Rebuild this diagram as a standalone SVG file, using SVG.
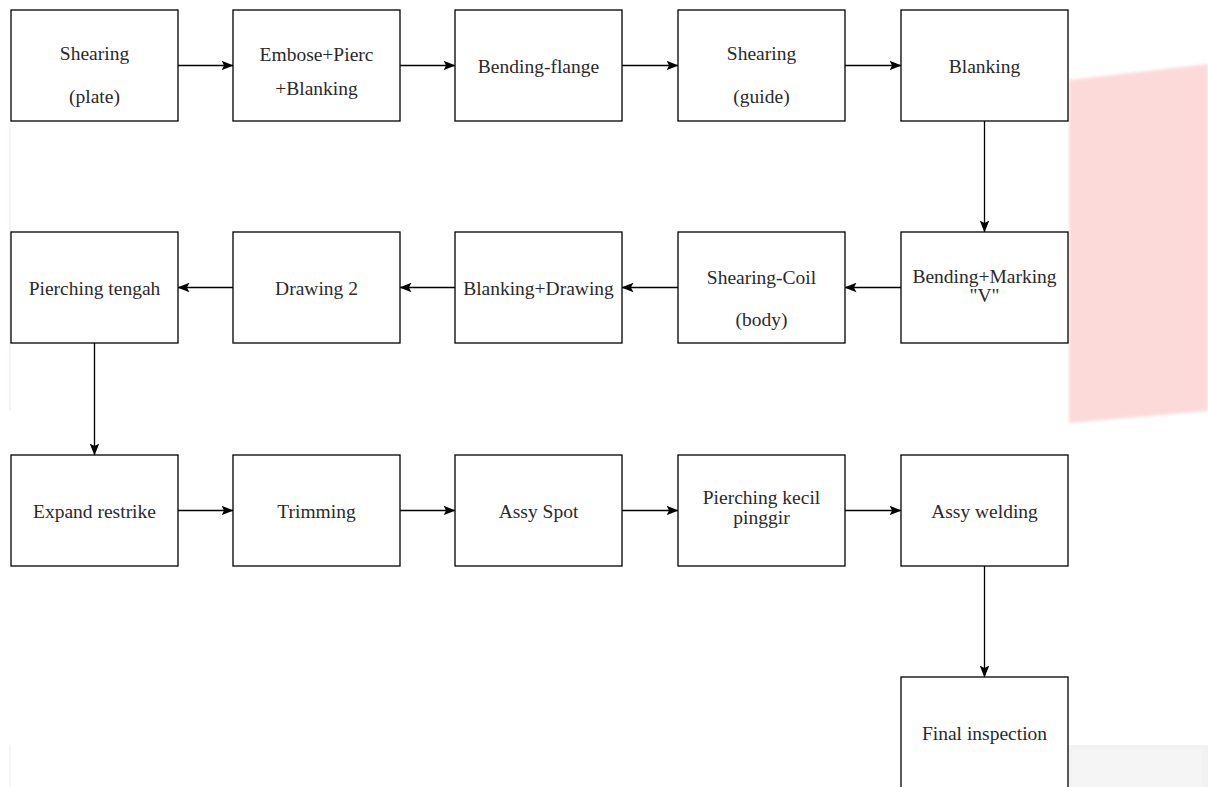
<svg xmlns="http://www.w3.org/2000/svg" width="1208" height="787" viewBox="0 0 1208 787">
  <style>
    .box { fill: #ffffff; stroke: #000000; stroke-width: 1.3; }
    .lbl { font-family: 'Liberation Serif', 'DejaVu Serif', serif; font-size: 19.5px; fill: #2a2a2a; text-anchor: middle; }
    .edge { fill: none; stroke: #000000; stroke-width: 1.3; }
  </style>
  <defs>
    <marker id="arr" viewBox="0 0 12 10" refX="11.5" refY="5" markerWidth="12" markerHeight="10" markerUnits="userSpaceOnUse" orient="auto">
      <path d="M0,0.2 L12,5 L0,9.8 L2.6,5 Z" fill="#000000"/>
    </marker>
    <filter id="soft" x="-10%" y="-10%" width="120%" height="120%">
      <feGaussianBlur stdDeviation="1.5"/>
    </filter>
  </defs>
  <rect x="0" y="0" width="1208" height="787" fill="#ffffff"/>
  <!-- background artifacts -->
  <polygon points="1069,80 1208,64 1208,411 1069,423" fill="#fcdada" filter="url(#soft)"/>
  <rect x="1068" y="745" width="140" height="42" fill="#f2f2f2"/>
  <rect x="1072" y="750" width="130" height="37" fill="#f5f5f5"/>
  <line x1="10" y1="125" x2="10" y2="410" stroke="#f6e4e4" stroke-width="1"/>
  <line x1="10" y1="745" x2="10" y2="787" stroke="#eeeeee" stroke-width="1"/>

  <g id="connectors">
    <line class="edge" x1="178" y1="65.5" x2="233" y2="65.5" marker-end="url(#arr)"/>
    <line class="edge" x1="400" y1="65.5" x2="455" y2="65.5" marker-end="url(#arr)"/>
    <line class="edge" x1="622" y1="65.5" x2="678" y2="65.5" marker-end="url(#arr)"/>
    <line class="edge" x1="845" y1="65.5" x2="901" y2="65.5" marker-end="url(#arr)"/>
    <line class="edge" x1="984.5" y1="121" x2="984.5" y2="232" marker-end="url(#arr)"/>
    <line class="edge" x1="901" y1="287.5" x2="845" y2="287.5" marker-end="url(#arr)"/>
    <line class="edge" x1="678" y1="287.5" x2="622" y2="287.5" marker-end="url(#arr)"/>
    <line class="edge" x1="455" y1="287.5" x2="400" y2="287.5" marker-end="url(#arr)"/>
    <line class="edge" x1="233" y1="287.5" x2="178" y2="287.5" marker-end="url(#arr)"/>
    <line class="edge" x1="94.5" y1="343" x2="94.5" y2="455" marker-end="url(#arr)"/>
    <line class="edge" x1="178" y1="510.5" x2="233" y2="510.5" marker-end="url(#arr)"/>
    <line class="edge" x1="400" y1="510.5" x2="455" y2="510.5" marker-end="url(#arr)"/>
    <line class="edge" x1="622" y1="510.5" x2="678" y2="510.5" marker-end="url(#arr)"/>
    <line class="edge" x1="845" y1="510.5" x2="901" y2="510.5" marker-end="url(#arr)"/>
    <line class="edge" x1="984.5" y1="566" x2="984.5" y2="677" marker-end="url(#arr)"/>
  </g>

  <g id="n1"><rect class="box" x="11" y="10" width="167" height="111"/>
    <text class="lbl" x="94.5" y="60">Shearing</text><text class="lbl" x="94.5" y="103">(plate)</text></g>
  <g id="n2"><rect class="box" x="233" y="10" width="167" height="111"/>
    <text class="lbl" x="316.5" y="60.5">Embose+Pierc</text><text class="lbl" x="316.5" y="94.5">+Blanking</text></g>
  <g id="n3"><rect class="box" x="455" y="10" width="167" height="111"/>
    <text class="lbl" x="538.5" y="72.5">Bending-flange</text></g>
  <g id="n4"><rect class="box" x="678" y="10" width="167" height="111"/>
    <text class="lbl" x="761.5" y="60">Shearing</text><text class="lbl" x="761.5" y="103">(guide)</text></g>
  <g id="n5"><rect class="box" x="901" y="10" width="167" height="111"/>
    <text class="lbl" x="984.5" y="72.5">Blanking</text></g>

  <g id="n6"><rect class="box" x="901" y="232" width="167" height="111"/>
    <text class="lbl" x="984.5" y="282.5">Bending+Marking</text><text class="lbl" x="984.5" y="302">"V"</text></g>
  <g id="n7"><rect class="box" x="678" y="232" width="167" height="111"/>
    <text class="lbl" x="761.5" y="283.5">Shearing-Coil</text><text class="lbl" x="761.5" y="326">(body)</text></g>
  <g id="n8"><rect class="box" x="455" y="232" width="167" height="111"/>
    <text class="lbl" x="538.5" y="294.5">Blanking+Drawing</text></g>
  <g id="n9"><rect class="box" x="233" y="232" width="167" height="111"/>
    <text class="lbl" x="316.5" y="294.5">Drawing 2</text></g>
  <g id="n10"><rect class="box" x="11" y="232" width="167" height="111"/>
    <text class="lbl" x="94.5" y="294.5">Pierching tengah</text></g>

  <g id="n11"><rect class="box" x="11" y="455" width="167" height="111"/>
    <text class="lbl" x="94.5" y="517.5">Expand restrike</text></g>
  <g id="n12"><rect class="box" x="233" y="455" width="167" height="111"/>
    <text class="lbl" x="316.5" y="517.5">Trimming</text></g>
  <g id="n13"><rect class="box" x="455" y="455" width="167" height="111"/>
    <text class="lbl" x="538.5" y="517.5">Assy Spot</text></g>
  <g id="n14"><rect class="box" x="678" y="455" width="167" height="111"/>
    <text class="lbl" x="761.5" y="504">Pierching kecil</text><text class="lbl" x="761.5" y="524">pinggir</text></g>
  <g id="n15"><rect class="box" x="901" y="455" width="167" height="111"/>
    <text class="lbl" x="984.5" y="517.5">Assy welding</text></g>

  <g id="n16"><rect class="box" x="901" y="677" width="167" height="130"/>
    <text class="lbl" x="984.5" y="740">Final inspection</text></g>
</svg>
